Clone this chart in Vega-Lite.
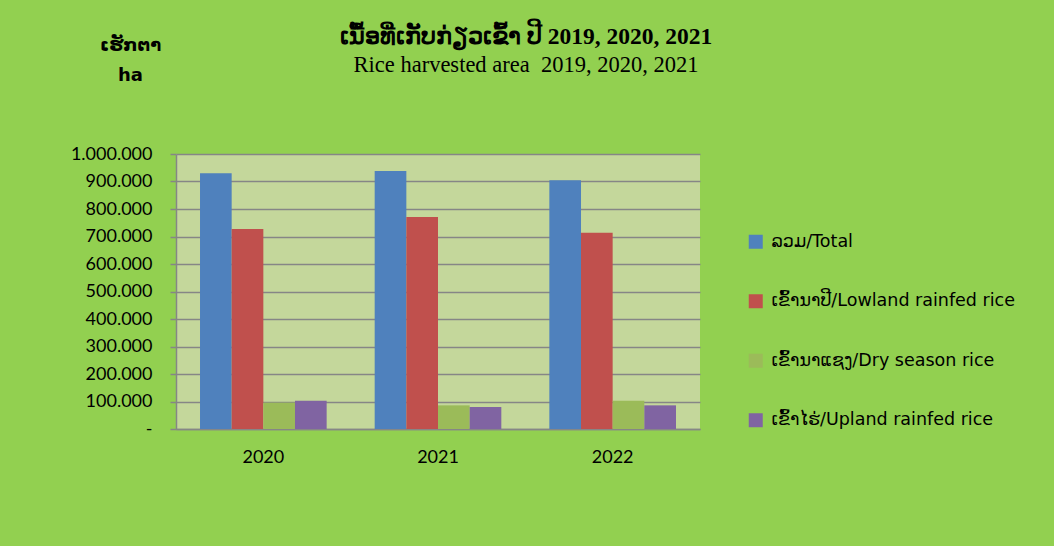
{
  "$schema": "https://vega.github.io/schema/vega-lite/v6.json",
  "autosize": "none",
  "width": 524,
  "height": 275,
  "padding": {"left": 176, "top": 154, "right": 354, "bottom": 117},
  "background": "#92D050",
  "title": {
    "text": "ເນື້ອທີ່ເກັບກ່ຽວເຂົ້າ ປີ 2019, 2020, 2021",
    "subtitle": "Rice harvested area \u00a02019, 2020, 2021",
    "anchor": "middle",
    "frame": "group",
    "dx": 88,
    "offset": -40,
    "font": "Liberation Serif",
    "fontSize": 23.5,
    "fontWeight": "bold",
    "color": "#000000",
    "subtitleFont": "Liberation Serif",
    "subtitleFontSize": 22.5,
    "subtitleColor": "#000000",
    "subtitlePadding": 5
  },
  "data": {
    "values": [
      {"year": "2020", "type": "ລວມ/Total", "area": 930000},
      {"year": "2020", "type": "ເຂົ້ານາປີ/Lowland rainfed rice", "area": 727000},
      {"year": "2020", "type": "ເຂົ້ານາແຊງ/Dry season rice", "area": 96000},
      {"year": "2020", "type": "ເຂົ້າໄຮ່/Upland rainfed rice", "area": 103000},
      {"year": "2021", "type": "ລວມ/Total", "area": 938000},
      {"year": "2021", "type": "ເຂົ້ານາປີ/Lowland rainfed rice", "area": 771000},
      {"year": "2021", "type": "ເຂົ້ານາແຊງ/Dry season rice", "area": 86000},
      {"year": "2021", "type": "ເຂົ້າໄຮ່/Upland rainfed rice", "area": 80000},
      {"year": "2022", "type": "ລວມ/Total", "area": 905000},
      {"year": "2022", "type": "ເຂົ້ານາປີ/Lowland rainfed rice", "area": 714000},
      {"year": "2022", "type": "ເຂົ້ານາແຊງ/Dry season rice", "area": 103000},
      {"year": "2022", "type": "ເຂົ້າໄຮ່/Upland rainfed rice", "area": 86000}
    ]
  },
  "mark": {"type": "bar"},
  "encoding": {
    "x": {
      "field": "year",
      "type": "nominal",
      "scale": {"paddingInner": 0.275, "paddingOuter": 0.1375},
      "axis": {
        "title": null,
        "labelAngle": 0,
        "labelFont": "Lato",
        "labelFontSize": 18,
        "labelColor": "#000000",
        "ticks": false,
        "tickSize": 0,
        "labelPadding": 19,
        "domainColor": "#868686",
        "domainWidth": 1.5
      }
    },
    "xOffset": {
      "field": "type",
      "type": "nominal",
      "sort": ["ລວມ/Total", "ເຂົ້ານາປີ/Lowland rainfed rice", "ເຂົ້ານາແຊງ/Dry season rice", "ເຂົ້າໄຮ່/Upland rainfed rice"],
      "scale": {"paddingInner": 0, "paddingOuter": 0}
    },
    "y": {
      "field": "area",
      "type": "quantitative",
      "scale": {"domain": [0, 1000000], "nice": false},
      "axis": {
        "title": ["ເຮັກຕາ", "ha"],
        "titleAngle": 0,
        "titleAlign": "center",
        "titleBaseline": "middle",
        "titleX": -46,
        "titleY": -109,
        "titleFont": "DejaVu Sans",
        "titleFontSize": 18,
        "titleFontWeight": "bold",
        "titleLineHeight": 30,
        "titleColor": "#000000",
        "values": [0, 100000, 200000, 300000, 400000, 500000, 600000, 700000, 800000, 900000, 1000000],
        "labelExpr": "datum.value == 0 ? '-' : replace(format(datum.value, ',.0f'), /,/g, '.')",
        "labelFont": "Lato",
        "labelFontSize": 18,
        "labelColor": "#000000",
        "labelPadding": 18,
        "tickSize": 6,
        "tickColor": "#868686",
        "tickWidth": 1.5,
        "domainColor": "#868686",
        "domainWidth": 1.5,
        "grid": true,
        "gridColor": "#868686",
        "gridWidth": 1.5
      }
    },
    "color": {
      "field": "type",
      "type": "nominal",
      "scale": {
        "domain": ["ລວມ/Total", "ເຂົ້ານາປີ/Lowland rainfed rice", "ເຂົ້ານາແຊງ/Dry season rice", "ເຂົ້າໄຮ່/Upland rainfed rice"],
        "range": ["#4F81BD", "#C0504D", "#9BBB59", "#8064A2"]
      },
      "legend": {
        "title": null,
        "orient": "none",
        "legendX": 571,
        "legendY": 79,
        "symbolType": "square",
        "symbolSize": 196,
        "symbolStrokeWidth": 0,
        "labelFont": "DejaVu Sans",
        "labelFontSize": 17.5,
        "labelColor": "#000000",
        "labelOffset": 7,
        "labelLimit": 400,
        "rowPadding": 40.5
      }
    }
  },
  "config": {
    "view": {"fill": "#C4D79B", "stroke": null}
  }
}
